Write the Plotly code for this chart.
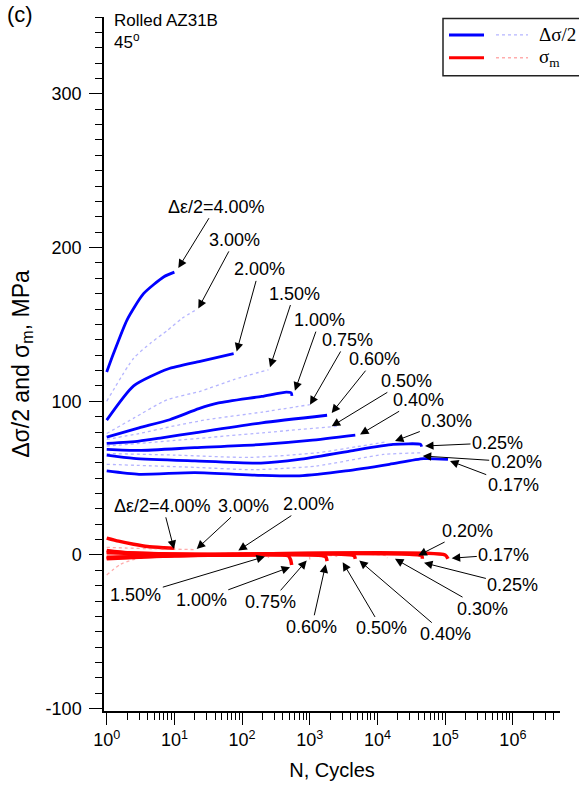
import numpy as np
import plotly.graph_objects as go

# ---------------- data ----------------
amplitudes = ["4.00%", "3.00%", "2.00%", "1.50%", "1.00%", "0.75%", "0.60%",
              "0.50%", "0.40%", "0.30%", "0.25%", "0.20%", "0.17%"]
solid_flags = [True, False, True, False, True, False, True,
               False, True, False, True, False, True]

# stress amplitude  (delta sigma / 2), MPa
sa_N_400 = [1, 1.26, 2, 3.5, 7, 10]
sa_400 = [119, 131, 153, 170, 181, 184]
sa_N_300 = [1, 2.5, 4.5, 7.8, 13, 20]
sa_300 = [100, 128, 138, 146, 154, 159]
sa_N_200 = [1, 2.5, 8, 24, 75]
sa_200 = [87.7, 110, 121, 126, 131]
sa_N_150 = [1, 2.5, 7.8, 24, 74, 245]
sa_150 = [79, 89, 101, 106.5, 114, 120.5]
sa_N_100 = [1, 3, 8.5, 23, 45, 195, 450, 530, 545]
sa_100 = [76.7, 82.7, 88, 95.2, 98.9, 103.2, 106, 105.5, 103.5]
sa_N_075 = [1, 3, 10, 30, 200, 1000]
sa_075 = [75.2, 79, 84, 88, 93, 97.8]
sa_N_060 = [1, 3, 6.5, 20, 195, 1800]
sa_060 = [72.6, 74.1, 76.2, 79.5, 86, 90.9]
sa_N_050 = [1, 10, 200, 2600]
sa_050 = [70.9, 74.5, 79.5, 83.8]
sa_N_040 = [1, 3, 20, 200, 1000, 4700]
sa_040 = [68.7, 68, 69.8, 71.9, 74.5, 78]
sa_N_030 = [1, 10, 130, 1300, 5000, 14000]
sa_030 = [66, 65, 63.5, 66.5, 70.5, 73.7]
sa_N_025 = [1, 2.5, 20, 190, 700, 3900, 17000, 43000, 45000]
sa_025 = [65, 62.9, 61.2, 59.8, 62.2, 67.6, 71.9, 72, 70.5]
sa_N_020 = [1, 20, 150, 1260, 12300, 47000]
sa_020 = [59, 57, 55.5, 57.9, 65.4, 66.5]
sa_N_017 = [1, 3, 20, 190, 700, 3400, 15000, 48000, 110000]
sa_017 = [54.7, 52.5, 53.6, 51.8, 51.5, 54.7, 59, 62.7, 62.2]

# mean stress (sigma_m), MPa
sm_N_400 = [1, 1.5, 2.5, 4, 7, 10]
sm_400 = [11, 9, 7, 5.5, 4.7, 4.3]
sm_N_300 = [1, 2, 5, 10, 20]
sm_300 = [5, 4.5, 4, 3.8, 3.5]
sm_N_200 = [1, 2, 5, 20, 75]
sm_200 = [3, 1.5, 0.8, 0.5, 0.3]
sm_N_150 = [1, 1.6, 3, 10, 240, 245]
sm_150 = [-13, -6, -2, -0.5, 0, -2]
sm_N_100 = [1, 3, 10, 100, 480, 520, 540]
sm_100 = [-2.5, -1.5, -0.5, 0, -0.5, -3, -6.5]
sm_N_075 = [1, 10, 960, 1000]
sm_075 = [2, 0.5, 0, -3.5]
sm_N_060 = [1, 10, 100, 1700, 1800]
sm_060 = [2, 0.5, 0, -1, -4]
sm_N_050 = [1, 10, 2500, 2600]
sm_050 = [-2, -0.3, -1, -3]
sm_N_040 = [1, 10, 4500, 4700]
sm_040 = [-2, -0.5, -0.5, -2.5]
sm_N_030 = [1, 10, 13500, 14000]
sm_030 = [1.5, 0.3, -0.5, -2]
sm_N_025 = [1, 10, 45000, 46000]
sm_025 = [1.5, 0.3, -0.5, -2.5]
sm_N_020 = [1, 10, 46000, 47000]
sm_020 = [-1.5, 0, 0, -1]
sm_N_017 = [1, 10, 100000, 110000]
sm_017 = [-1.5, -0.3, 0, -2.5]

sa_series = [(sa_N_400, sa_400), (sa_N_300, sa_300), (sa_N_200, sa_200),
             (sa_N_150, sa_150), (sa_N_100, sa_100), (sa_N_075, sa_075),
             (sa_N_060, sa_060), (sa_N_050, sa_050), (sa_N_040, sa_040),
             (sa_N_030, sa_030), (sa_N_025, sa_025), (sa_N_020, sa_020),
             (sa_N_017, sa_017)]
sm_series = [(sm_N_400, sm_400), (sm_N_300, sm_300), (sm_N_200, sm_200),
             (sm_N_150, sm_150), (sm_N_100, sm_100), (sm_N_075, sm_075),
             (sm_N_060, sm_060), (sm_N_050, sm_050), (sm_N_040, sm_040),
             (sm_N_030, sm_030), (sm_N_025, sm_025), (sm_N_020, sm_020),
             (sm_N_017, sm_017)]

# label positions: (log10 N of arrow tip, value of tip, log10 N of text, value of text)
sa_label_tip_x = [1.058, 1.353, 1.92, 2.412, 2.78, 3.003, 3.323, 3.323, 3.742, 4.259, 4.702, 4.668, 5.071]
sa_label_tip_y = [186.7, 160.4, 132.4, 122.2, 106.9, 97.8, 92.4, 83.8, 78.4, 74.1, 70.9, 64.4, 61.2]
sa_label_x = [1.615, 1.895, 2.253, 2.77, 3.15, 3.553, 3.96, 4.425, 4.606, 5.024, 5.773, 6.049, 6.005]
sa_label_y = [226.6, 205, 185.8, 170.1, 152.8, 139.9, 127.4, 113.3, 101, 87.1, 73, 60.5, 45.6]

sm_label_tip_x = [0.994, 1.329, 1.944, 2.338, 2.708, 2.954, 3.235, 3.486, 3.731, 4.258, 4.687, 4.603, 5.096]
sm_label_tip_y = [3.9, 3.9, 2.9, -1.0, -7.9, -3.6, -6.1, -4.7, -3.6, -2.5, -5.1, -0.3, -2.1]
sm_label_x = [0.829, 2.018, 2.985, 0.43, 1.397, 2.42, 3.028, 4.064, 5.0, 5.556, 6.0, 5.325, 5.866]
sm_label_y = [32, 32, 33.1, -26.2, -29.1, -30.5, -46.7, -47.8, -51.5, -34.9, -19.7, 15.9, 0.3]

x_tick_vals = [1, 10, 100, 1000, 10000, 100000, 1000000]
x_tick_text = ["10<sup>0</sup>", "10<sup>1</sup>", "10<sup>2</sup>", "10<sup>3</sup>",
               "10<sup>4</sup>", "10<sup>5</sup>", "10<sup>6</sup>"]
y_tick_vals = [-100, 0, 100, 200, 300]
y_tick_text = ["-100", "0", "100", "200", "300"]

# ---------------- styles ----------------
FONT = "Liberation Sans, Arial, sans-serif"
SERIF = "Liberation Serif, Times New Roman, serif"
BLUE = "#0000ff"
BLUE_DOT = "rgba(90,90,255,0.45)"
RED = "#ff0000"
RED_DOT = "rgba(255,70,70,0.45)"

fig = go.Figure()

for (nx, vy), solid in zip(sm_series, solid_flags):
    fig.add_trace(go.Scatter(
        x=nx, y=vy, mode="lines", showlegend=False, hoverinfo="skip",
        line=dict(color=RED if solid else RED_DOT, width=3.5 if solid else 1.3,
                  dash="solid" if solid else "dot", shape="spline", smoothing=0.6)))

for (nx, vy), solid in zip(sa_series, solid_flags):
    fig.add_trace(go.Scatter(
        x=nx, y=vy, mode="lines", showlegend=False, hoverinfo="skip",
        line=dict(color=BLUE if solid else BLUE_DOT, width=2.8 if solid else 1.3,
                  dash="solid" if solid else "dot", shape="spline", smoothing=0.6)))

annotations = []
for i, lab in enumerate(amplitudes):
    txt = ("\u0394\u03b5/2=" + lab) if i == 0 else lab
    annotations.append(dict(
        x=sa_label_tip_x[i], y=sa_label_tip_y[i], xref="x", yref="y",
        ax=sa_label_x[i], ay=sa_label_y[i], axref="x", ayref="y",
        text=txt, showarrow=True, arrowhead=2, arrowsize=1.7, arrowwidth=1,
        arrowcolor="black", standoff=0, startstandoff=0,
        font=dict(family=FONT, size=18, color="black")))
    annotations.append(dict(
        x=sm_label_tip_x[i], y=sm_label_tip_y[i], xref="x", yref="y",
        ax=sm_label_x[i], ay=sm_label_y[i], axref="x", ayref="y",
        text=txt, showarrow=True, arrowhead=2, arrowsize=1.7, arrowwidth=1,
        arrowcolor="black", standoff=0, startstandoff=0,
        font=dict(family=FONT, size=18, color="black")))

# panel label and material text
annotations.append(dict(x=-0.185, y=1.003, xref="paper", yref="paper", text="(c)",
                        showarrow=False, xanchor="center", yanchor="middle",
                        font=dict(family=FONT, size=22, color="black")))
annotations.append(dict(x=0.018, y=1.012, xref="paper", yref="paper",
                        text="Rolled AZ31B<br>45<sup>o</sup>", align="left",
                        showarrow=False, xanchor="left", yanchor="top",
                        font=dict(family=FONT, size=17, color="black")))

# legend (drawn manually: solid + dotted sample per entry)
def px_x(p):
    return (p - 104) / 456.0

def px_y(p):
    return (715 - p) / 698.0

shapes = [
    dict(type="rect", xref="paper", yref="paper", x0=px_x(443), x1=px_x(600),
         y0=px_y(76), y1=px_y(18.5), line=dict(color="#222", width=1.5),
         fillcolor="white", layer="above"),
    dict(type="line", xref="paper", yref="paper", x0=px_x(449), x1=px_x(484),
         y0=px_y(35), y1=px_y(35), line=dict(color=BLUE, width=3)),
    dict(type="line", xref="paper", yref="paper", x0=px_x(496), x1=px_x(528),
         y0=px_y(35), y1=px_y(35), line=dict(color=BLUE_DOT, width=1.3, dash="dot")),
    dict(type="line", xref="paper", yref="paper", x0=px_x(449), x1=px_x(484),
         y0=px_y(58), y1=px_y(58), line=dict(color=RED, width=3)),
    dict(type="line", xref="paper", yref="paper", x0=px_x(496), x1=px_x(528),
         y0=px_y(58), y1=px_y(58), line=dict(color=RED_DOT, width=1.3, dash="dot")),
]
annotations.append(dict(x=px_x(537), y=px_y(35), xref="paper", yref="paper",
                        text="\u0394\u03c3/2", showarrow=False, xanchor="left",
                        yanchor="middle", font=dict(family=SERIF, size=19, color="black")))
annotations.append(dict(x=px_x(537), y=px_y(58), xref="paper", yref="paper",
                        text="\u03c3<sub>m</sub>", showarrow=False, xanchor="left",
                        yanchor="middle", font=dict(family=SERIF, size=19, color="black")))

fig.update_layout(
    width=579, height=790,
    margin=dict(l=104, r=19, t=17, b=75),
    paper_bgcolor="white", plot_bgcolor="white",
    showlegend=False,
    annotations=annotations, shapes=shapes,
    font=dict(family=FONT, size=18, color="black"),
)

fig.update_xaxes(
    type="log", range=[-0.04, 6.696],
    showline=True, linecolor="black", linewidth=1.5, mirror=False,
    showgrid=False, zeroline=False,
    ticks="outside", ticklen=12, tickwidth=1.2, tickcolor="black",
    tickvals=x_tick_vals, ticktext=x_tick_text,
    tickfont=dict(family=FONT, size=18, color="black"),
    minor=dict(ticks="outside", ticklen=7, tickwidth=1.2, tickcolor="black",
               dtick="D1", showgrid=False),
    title=dict(text="N, Cycles", font=dict(family=FONT, size=20, color="black"),
               standoff=14),
)
fig.update_yaxes(
    range=[-101.5, 350],
    showline=True, linecolor="black", linewidth=1.5, mirror=False,
    showgrid=False, zeroline=False,
    ticks="outside", ticklen=13, tickwidth=1.2, tickcolor="black",
    tickvals=y_tick_vals, ticktext=y_tick_text,
    tickfont=dict(family=FONT, size=18, color="black"),
    ticklabelstandoff=4,
    minor=dict(ticks="outside", ticklen=7, tickwidth=1.2, tickcolor="black",
               dtick=10, tick0=0, showgrid=False),
    title=dict(text="\u0394\u03c3/2 and \u03c3<sub>m</sub>, MPa",
               font=dict(family=FONT, size=23, color="black"), standoff=10),
)

fig.write_html("out.html")
